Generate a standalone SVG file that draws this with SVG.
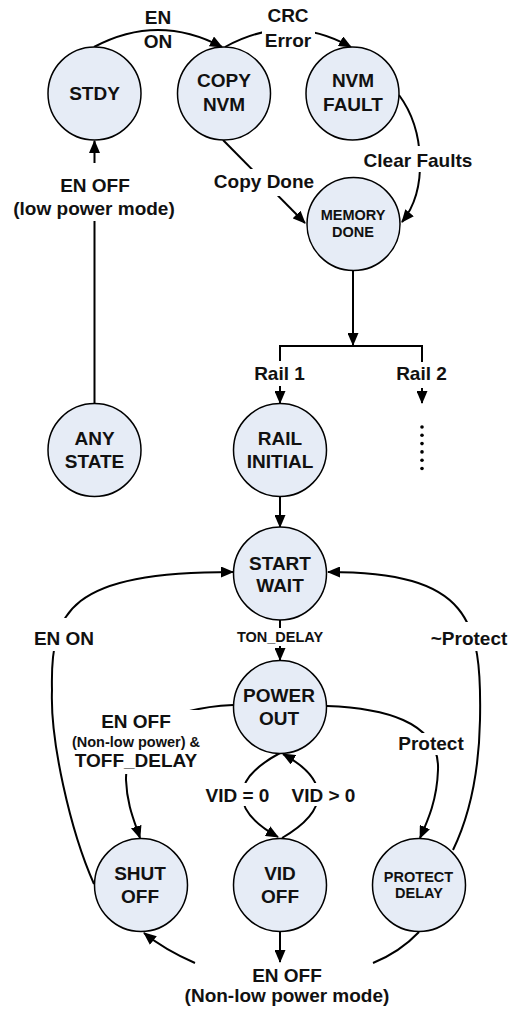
<svg xmlns="http://www.w3.org/2000/svg" width="511" height="1011" viewBox="0 0 511 1011">
<style>
.node circle{fill:#E6ECF6;stroke:#000;stroke-width:1.5}
text{font-family:"Liberation Sans",Arial,sans-serif;font-weight:bold;fill:#111;text-anchor:middle}
.big{font-size:19px}
.sm{font-size:14.5px}
.c{fill:none;stroke:#000;stroke-width:2}
.a{marker-end:url(#ah)}
.bg{fill:#fff}
</style>
<defs>
<marker id="ah" viewBox="0 0 13 11" refX="12" refY="5.5" markerWidth="13" markerHeight="11" markerUnits="userSpaceOnUse" orient="auto"><path d="M0,0 L13,5.5 L0,11 z" fill="#000"/></marker>
</defs>
<rect width="511" height="1011" fill="#fff"/>
<g id="connectors">
<path class="c a" d="M94,47 Q158,13 222,47"/>
<path class="c a" d="M225,47 Q288,12 351,47"/>
<path class="c a" d="M223,140 L305,223"/>
<path class="c a" d="M399,95 C425,130 428,190 402,222"/>
<path class="c a" d="M94.5,403 L94.5,141"/>
<path class="c a" d="M353,271 L353,345"/>
<path class="c" d="M280,361 L280,346 L422,346 L422,362"/>
<path class="c a" d="M280,386 L280,403"/>
<path class="c a" d="M422,388 L422,403"/>
<path class="c a" d="M280,497 L280,527"/>
<path class="c a" d="M280,620 L280,660"/>
<path class="c a" d="M94,884 C70,830 50,740 52,690 C50,610 70,572 233,572"/>
<path class="c a" d="M453,850 C470,815 479,770 480,720 C482,620 470,572 328,572"/>
<path class="c a" d="M233,705 C170,708 125,730 126,780 C127,805 134,820 140,838"/>
<path class="c a" d="M327,706 C380,708 440,720 438,770 C437,800 428,820 420,838"/>
<path class="c a" d="M280,753 C230,780 230,810 278,837"/>
<path class="c a" d="M282,838 C330,810 330,780 283,754"/>
<path class="c a" d="M280,932 L280,962"/>
<path class="c a" d="M195,963 Q165,950 144,933"/>
<path class="c" d="M419,932 Q400,952 373,963"/>
<g fill="#000">
<circle cx="422" cy="427" r="1.8"/><circle cx="422" cy="435.3" r="1.8"/><circle cx="422" cy="443.6" r="1.8"/><circle cx="422" cy="451.9" r="1.8"/><circle cx="422" cy="460.2" r="1.8"/><circle cx="422" cy="468.5" r="1.8"/>
</g>
</g>
<g id="edge-labels">
<rect class="bg" x="262" y="28" width="53" height="22"/>
<rect class="bg" x="211" y="169" width="106" height="27"/>
<rect class="bg" x="360" y="146" width="116" height="26"/>
<rect class="bg" x="9" y="163" width="171" height="58"/>
<rect class="bg" x="30" y="618" width="68" height="33"/>
<rect class="bg" x="248" y="628" width="64" height="18"/>
<rect class="bg" x="427" y="622" width="84" height="29"/>
<rect class="bg" x="68" y="710" width="136" height="64"/>
<rect class="bg" x="395" y="733" width="71" height="22"/>
<rect class="bg" x="203" y="783" width="69" height="23"/>
<rect class="bg" x="289" y="783" width="69" height="23"/>
<text class="big" x="158" y="23.5">EN</text>
<text class="big" x="158" y="47.5">ON</text>
<text class="big" x="288" y="22">CRC</text>
<text class="big" x="288" y="47">Error</text>
<text class="big" x="264" y="188">Copy Done</text>
<text class="big" x="418" y="167">Clear Faults</text>
<text class="big" x="95" y="192">EN OFF</text>
<text class="big" x="94" y="215">(low power mode)</text>
<text class="big" x="279.5" y="380">Rail 1</text>
<text class="big" x="421.5" y="380">Rail 2</text>
<text class="big" x="64" y="645">EN ON</text>
<text class="sm" x="280" y="642">TON_DELAY</text>
<text class="big" x="469" y="645">~Protect</text>
<text class="big" x="136" y="728">EN OFF</text>
<text class="sm" x="136" y="747">(Non-low power) &amp;</text>
<text class="big" x="136" y="767">TOFF_DELAY</text>
<text class="big" x="431" y="750">Protect</text>
<text class="big" x="237.5" y="802">VID = 0</text>
<text class="big" x="323.5" y="802">VID &gt; 0</text>
<text class="big" x="287" y="982">EN OFF</text>
<text class="big" x="287" y="1002">(Non-low power mode)</text>
</g>
<g id="stdy" class="node"><circle cx="94.5" cy="93.5" r="46.5"/><text class="big" x="94.5" y="100">STDY</text></g>
<g id="copy-nvm" class="node"><circle cx="224" cy="93.5" r="46.5"/><text class="big" x="224" y="87">COPY</text><text class="big" x="224" y="111">NVM</text></g>
<g id="nvm-fault" class="node"><circle cx="352.5" cy="93.5" r="46.5"/><text class="big" x="353" y="87">NVM</text><text class="big" x="353" y="111">FAULT</text></g>
<g id="memory-done" class="node"><circle cx="353.5" cy="224" r="46.5"/><text class="sm" x="353" y="220">MEMORY</text><text class="sm" x="353" y="237">DONE</text></g>
<g id="any-state" class="node"><circle cx="94.5" cy="450" r="46.5"/><text class="big" x="94.5" y="445">ANY</text><text class="big" x="94.5" y="468">STATE</text></g>
<g id="rail-initial" class="node"><circle cx="280" cy="450" r="46.5"/><text class="big" x="280" y="445">RAIL</text><text class="big" x="280" y="468">INITIAL</text></g>
<g id="start-wait" class="node"><circle cx="280" cy="573.5" r="46.5"/><text class="big" x="280" y="570">START</text><text class="big" x="280" y="592">WAIT</text></g>
<g id="power-out" class="node"><circle cx="280" cy="707" r="46.5"/><text class="big" x="279" y="702">POWER</text><text class="big" x="279" y="725">OUT</text></g>
<g id="shut-off" class="node"><circle cx="141" cy="885" r="46.5"/><text class="big" x="140" y="880">SHUT</text><text class="big" x="140" y="903">OFF</text></g>
<g id="vid-off" class="node"><circle cx="280" cy="885" r="46.5"/><text class="big" x="280" y="880">VID</text><text class="big" x="280" y="903">OFF</text></g>
<g id="protect-delay" class="node"><circle cx="419" cy="885" r="46.5"/><text class="sm" x="418.5" y="882">PROTECT</text><text class="sm" x="419" y="898">DELAY</text></g>
</svg>
